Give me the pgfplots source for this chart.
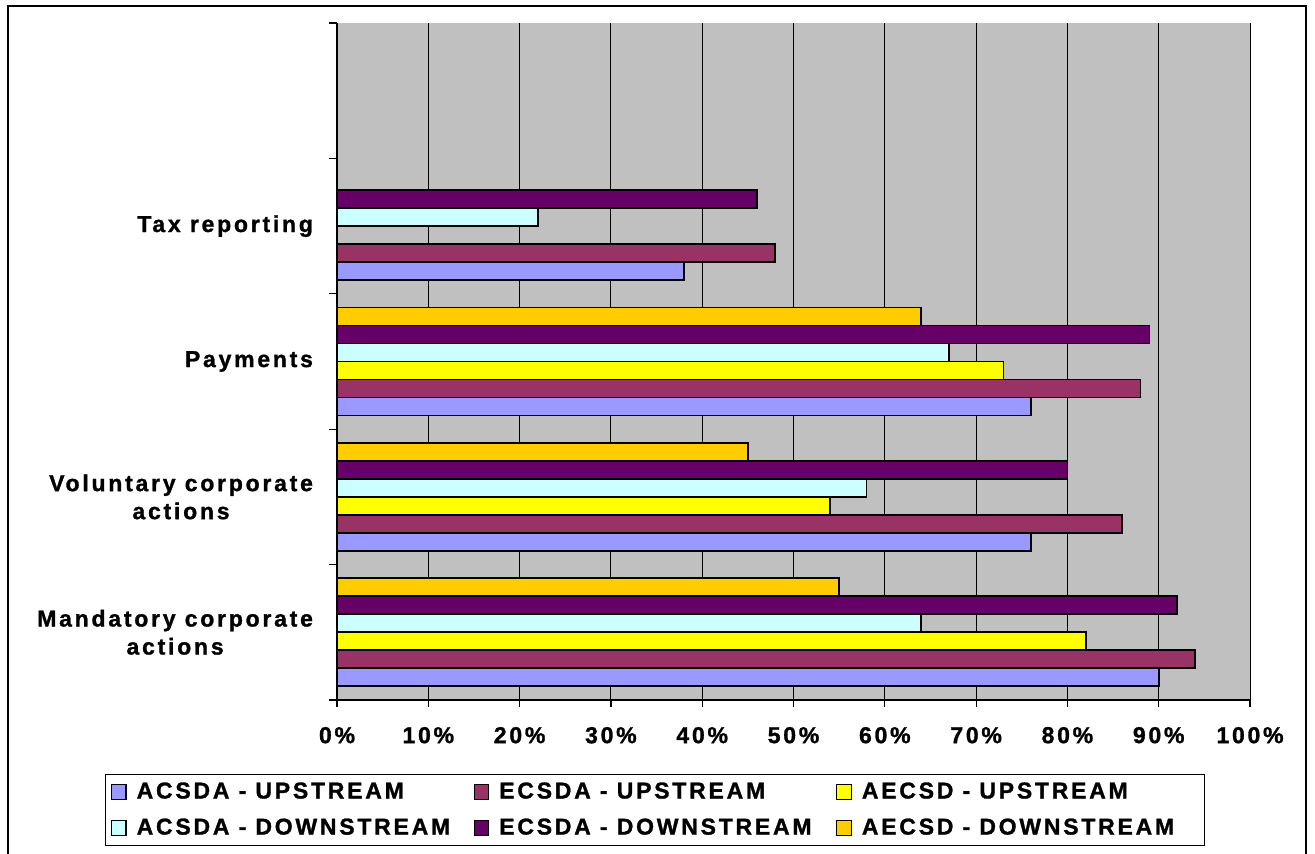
\documentclass[border=0pt]{standalone}
\usepackage{fontspec}
\setmainfont{Liberation Sans}
\newfontfamily\lblfont{Liberation Sans}[UprightFont=* Bold, LetterSpace=12, FakeBold=1.2]
\usepackage{pgfplots}
\pgfplotsset{compat=1.18}

\definecolor{acsdaup}{HTML}{9999FF}
\definecolor{ecsdaup}{HTML}{993366}
\definecolor{aecsdup}{HTML}{FFFF00}
\definecolor{acsdadown}{HTML}{CCFFFF}
\definecolor{ecsdadown}{HTML}{660066}
\definecolor{aecsddown}{HTML}{FFCC00}
\definecolor{plotgray}{HTML}{C0C0C0}

\newcommand{\lbl}{\lblfont\fontsize{11.5}{14}\selectfont}
\newcommand{\entry}[1]{\hspace{3pt}\makebox[166.5pt][l]{#1}}

\begin{document}
\begin{tikzpicture}
\useasboundingbox (0pt,0pt) rectangle (657.5pt,426.5pt);
\draw[line width=0.8pt] (4pt,-5pt) rectangle (653pt,423.5pt);
\begin{axis}[
    at={(168.5pt,76.5pt)}, anchor=south west,
    scale only axis,
    width=456.5pt, height=338.5pt,
    xbar,
    bar width=0.1327,
    xmin=0, xmax=100,
    ymin=-0.5, ymax=4.5,
    xtick={0,10,...,90},
    extra x ticks={100},
    extra x tick style={grid style={gray!70!black, line width=0.8pt}},
    xticklabel={\pgfmathprintnumber{\tick}\%},
    /pgf/number format/assume math mode=true,
    xticklabel style={yshift=-6.5pt},
    ytick={0,1,2,3},
    yticklabels={{Mandatory corporate\\actions},{Voluntary corporate\\actions},{Payments},{Tax reporting}},
    yticklabel style={align=center, xshift=-5pt},
    minor ytick={-0.5,0.5,1.5,2.5,3.5,4.5},
    major y tick style={draw=none},
    tick align=outside,
    major tick length=3.5pt,
    minor tick length=4pt,
    tick style={black, line width=0.6pt},
    tick label style={font=\lbl},
    xmajorgrids,
    major x grid style={black, line width=0.5pt},
    axis background/.style={fill=plotgray},
    axis x line*=bottom,
    axis y line*=left,
    axis line style={-, black, line width=0.8pt},
    every axis plot post/.append style={
        draw=black, line width=0.9pt,
        legend image code/.code={\draw[##1, line width=0.6pt] (0pt,-3.6pt) rectangle (7.2pt,3.6pt);}},
    legend columns=3,
    legend style={at={(0.3483,-0.1625)}, anchor=center, draw=black, line width=0.5pt,
        font=\lbl, row sep=4.5pt, inner xsep=3pt, inner ysep=2pt},
]
% bottom to top inside each group
\addplot[fill=acsdaup, bar shift=-0.332] coordinates {(90,0) (76,1) (76,2) (38,3)};
\addplot[fill=ecsdaup, bar shift=-0.199] coordinates {(94,0) (86,1) (88,2) (48,3)};
\addplot[fill=aecsdup, bar shift=-0.066] coordinates {(82,0) (54,1) (73,2)};
\addplot[fill=acsdadown, bar shift=0.066] coordinates {(64,0) (58,1) (67,2) (22,3)};
\addplot[fill=ecsdadown, bar shift=0.199] coordinates {(92,0) (80,1) (89,2) (46,3)};
\addplot[fill=aecsddown, bar shift=0.332] coordinates {(55,0) (45,1) (64,2)};
\legend{\entry{ACSDA - UPSTREAM},
        \entry{ECSDA - UPSTREAM},
        \entry{AECSD - UPSTREAM},
        \entry{ACSDA - DOWNSTREAM},
        \entry{ECSDA - DOWNSTREAM},
        \entry{AECSD - DOWNSTREAM}}
\end{axis}
\end{tikzpicture}
\end{document}
